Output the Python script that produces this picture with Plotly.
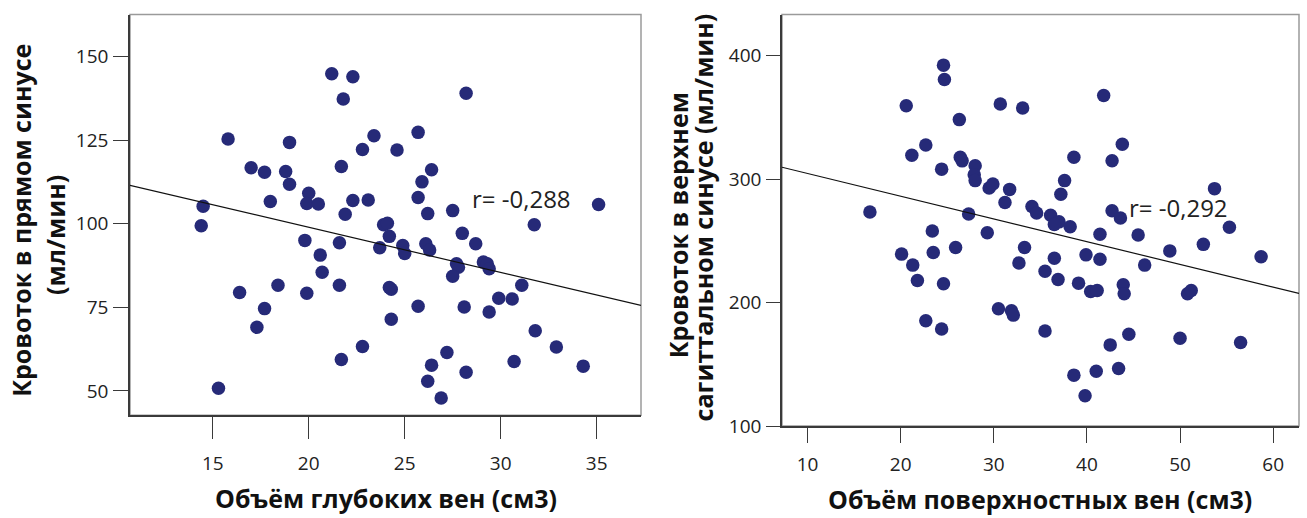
import plotly.graph_objects as go

# ---- data ----
deep_volume = [21.2, 22.3, 21.8, 28.2, 15.8, 19.0, 23.4, 22.8, 24.6, 25.7, 17.0, 17.7, 18.8, 19.0,
               21.7, 26.4, 25.9, 18.0, 20.0, 19.9, 20.5, 22.3, 23.1, 25.7, 14.5, 35.1,
               14.4, 21.9, 26.2, 27.5, 31.75, 19.8, 21.6, 23.9, 24.1, 24.2, 23.7, 24.9, 25.0, 20.6,
               26.1, 26.3, 28.0, 28.7, 27.7, 27.8, 27.5, 29.1, 29.3, 29.4, 20.7, 16.4, 18.4, 19.9,
               21.6, 24.2, 24.3, 31.1, 29.9, 30.6, 17.7, 25.7, 28.1, 29.4, 17.3, 24.3, 31.8, 22.8,
               32.9, 27.2, 21.7, 30.7, 26.4, 34.3, 28.2, 26.2, 15.3, 26.9]
straight_flow = [144.8, 143.9, 137.3, 139.0, 125.3, 124.3, 126.3, 122.2, 122.0, 127.3, 116.7, 115.4, 115.6, 111.8,
                 117.1, 116.1, 112.5, 106.6, 109.1, 106.0, 105.9, 106.9, 107.1, 107.8, 105.2, 105.7,
                 99.4, 102.8, 103.0, 103.9, 99.7, 95.0, 94.3, 99.7, 100.1, 96.2, 92.8, 93.5, 91.1, 90.6,
                 94.0, 92.1, 97.1, 94.0, 88.0, 87.0, 84.3, 88.5, 88.0, 86.5, 85.5, 79.4, 81.6, 79.2,
                 81.6, 80.9, 80.4, 81.6, 77.7, 77.5, 74.6, 75.3, 75.1, 73.6, 69.0, 71.4, 68.0, 63.3,
                 63.1, 61.5, 59.4, 58.8, 57.7, 57.4, 55.6, 52.9, 50.8, 47.9]

surf_volume = [24.6, 24.7, 20.6, 30.7, 33.1, 41.8, 26.3, 21.2, 22.7, 26.4, 26.6, 24.4, 28.0, 27.9,
               28.0, 38.6, 43.8, 42.7, 37.6, 29.5, 29.9, 31.7, 37.2, 53.7, 31.2, 34.1, 42.7,
               16.7, 27.3, 34.6, 36.1, 37.0, 36.5, 38.2, 43.6, 55.3, 23.4, 29.3, 41.4, 45.5, 52.5,
               20.1, 23.5, 25.9, 33.3, 39.9, 36.5, 41.4, 32.7, 48.9, 46.2, 58.7, 21.3, 21.8, 24.6,
               35.5, 36.9, 39.1, 40.4, 41.1, 43.9, 44.0, 50.8, 51.2, 30.5, 31.9, 32.1, 22.7, 24.4,
               35.5, 44.5, 50.0, 56.5, 42.5, 43.4, 38.6, 41.0, 39.8]
sagittal_flow = [392.2, 380.5, 359.4, 360.7, 357.5, 367.6, 348.1, 319.3, 327.6, 317.6, 314.7, 308.0, 310.7, 303.5,
                 298.7, 317.6, 328.2, 314.8, 298.7, 292.8, 296.0, 291.6, 287.6, 292.2, 281.0, 277.8, 274.3,
                 273.3, 271.7, 272.5, 270.6, 265.3, 263.1, 261.3, 268.5, 261.0, 257.9, 256.5, 255.2, 254.6, 247.1,
                 239.2, 240.5, 244.5, 244.5, 238.6, 235.9, 235.1, 232.0, 241.8, 230.3, 237.0, 230.3, 217.8, 215.2,
                 225.3, 218.6, 215.7, 209.0, 209.8, 214.4, 207.1, 207.1, 209.8, 194.9, 193.3, 189.8, 185.2, 178.6,
                 177.0, 174.3, 171.1, 167.6, 165.7, 146.6, 141.2, 144.4, 124.5]

# regression lines (intercept, slope) and correlation labels
left_fit = (125.9, -1.349)
right_fit = (322.9, -1.841)
left_r = "r= -0,288"
right_r = "r= -0,292"

left_xticks = [15, 20, 25, 30, 35]
left_yticks = [50, 75, 100, 125, 150]
right_xticks = [10, 20, 30, 40, 50, 60]
right_yticks = [100, 200, 300, 400]

left_xrange = [10.69, 37.31]
left_yrange = [42.7, 162.5]
right_xrange = [7.26, 62.77]
right_yrange = [100, 433.1]

W, H = 1307, 518
DOT = "#262a78"
AX = "#3a3a3a"
FRAME = "#9a9a9a"

fig = go.Figure()

fig.add_trace(go.Scatter(x=deep_volume, y=straight_flow, mode="markers",
                         marker=dict(size=13.5, color=DOT, line=dict(width=0)),
                         xaxis="x", yaxis="y", showlegend=False))
fig.add_trace(go.Scatter(x=left_xrange, y=[left_fit[0] + left_fit[1] * v for v in left_xrange],
                         mode="lines", line=dict(color="#111", width=1.2),
                         xaxis="x", yaxis="y", showlegend=False))
fig.add_trace(go.Scatter(x=surf_volume, y=sagittal_flow, mode="markers",
                         marker=dict(size=13.5, color=DOT, line=dict(width=0)),
                         xaxis="x2", yaxis="y2", showlegend=False))
fig.add_trace(go.Scatter(x=right_xrange, y=[right_fit[0] + right_fit[1] * v for v in right_xrange],
                         mode="lines", line=dict(color="#111", width=1.2),
                         xaxis="x2", yaxis="y2", showlegend=False))

tickfont = dict(family="Open Sans", size=19, color="#222")
common = dict(showgrid=False, zeroline=False, showline=True, linecolor=AX, linewidth=1.5,
              ticks="outside", tickcolor=AX, tickwidth=1.3, tickfont=tickfont)

fig.update_layout(
    width=W, height=H, margin=dict(l=0, r=0, t=0, b=0),
    paper_bgcolor="white", plot_bgcolor="white",
    xaxis=dict(domain=[130 / W, 641 / W], range=left_xrange, tickvals=left_xticks,
               anchor="y", ticklen=22, ticklabelstandoff=8, **common),
    yaxis=dict(domain=[1 - 426 / H, 1 - 15 / H], range=left_yrange, tickvals=left_yticks,
               anchor="x", ticklen=15, ticklabelstandoff=1, **common),
    xaxis2=dict(domain=[782 / W, 1299 / W], range=right_xrange, tickvals=right_xticks,
                anchor="y2", ticklen=15, ticklabelstandoff=5, **common),
    yaxis2=dict(domain=[1 - 437 / H, 1 - 15 / H], range=right_yrange, tickvals=right_yticks,
                anchor="x2", ticklen=14, ticklabelstandoff=1, **common),
)

# light frame on top/right
for xr, yr in (("x", "y"), ("x2", "y2")):
    fig.add_shape(type="rect", xref=xr + " domain", yref=yr + " domain", x0=0, x1=1, y0=0, y1=1,
                  line=dict(color=FRAME, width=1.5), layer="below")

# correlation labels
rfont = dict(family="Open Sans", size=24, color="#222")
fig.add_annotation(x=31.09, y=107.6, xref="x", yref="y", text=left_r, showarrow=False, font=rfont)
fig.add_annotation(x=49.8, y=277.0, xref="x2", yref="y2", text=right_r, showarrow=False, font=rfont)

# axis titles
def ptitle(text, px, py, angle=0, size=26):
    f = dict(family="Open Sans", size=size, color="#111")
    fig.add_annotation(x=px / W, y=1 - py / H, xref="paper", yref="paper", text="<b>" + text + "</b>",
                       showarrow=False, textangle=angle, font=f, xanchor="center", yanchor="middle")

ptitle("Объём глубоких вен (см3)", 385.5, 511, size=25)
ptitle("Объём поверхностных вен (см3)", 1040, 512, size=25)
ptitle("Кровоток в прямом синусе", 21.5, 226, -90, 25)
ptitle("(мл/мин)", 55, 241, -90, 25)
ptitle("Кровоток в верхнем", 678, 231, -90, 25)
ptitle("сагиттальном синусе (мл/мин)", 703, 223, -90, 25)

fig.write_html("out.html")
